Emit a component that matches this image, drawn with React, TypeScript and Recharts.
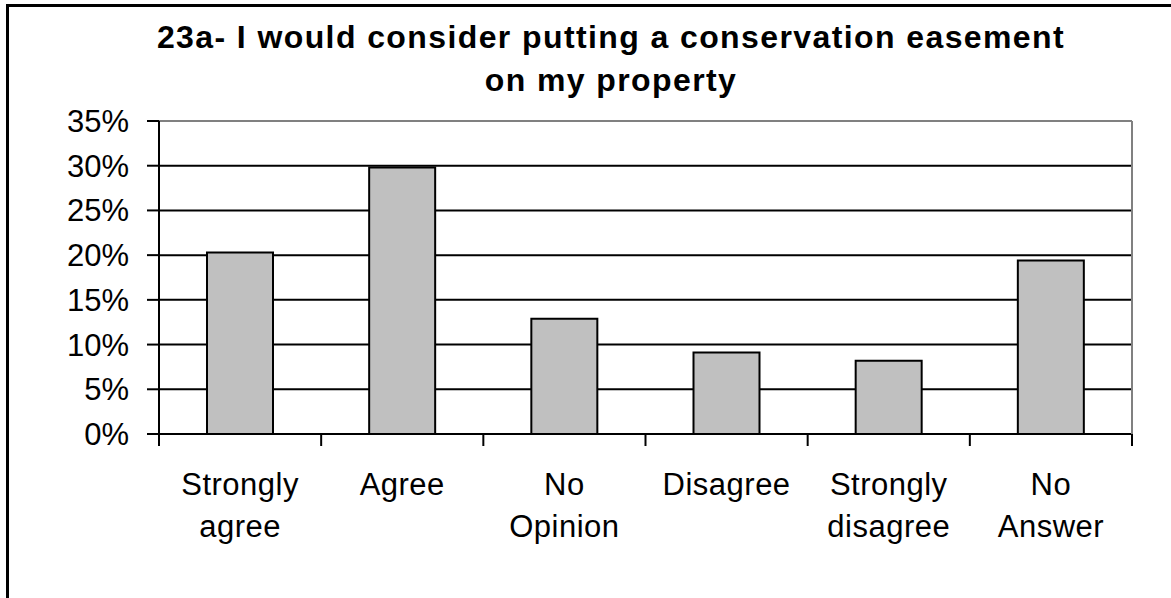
import React from 'react';
import { BarChart, Bar, XAxis, YAxis, CartesianGrid, ReferenceLine } from 'recharts';

const categories = ['Strongly agree', 'Agree', 'No Opinion', 'Disagree', 'Strongly disagree', 'No Answer'];
const values = [20.3, 29.8, 12.9, 9.1, 8.2, 19.4];
const yTicks = [0, 5, 10, 15, 20, 25, 30, 35];
const titleLines = ['23a- I would consider putting a conservation easement', 'on my property'];

const data = categories.map((c, i) => ({ category: c, value: values[i] }));

const FONT = '"Liberation Sans", Arial, Helvetica, sans-serif';
const W = 1171;
const H = 598;

const CategoryTick = (props: any) => {
  const { x, y, payload, index, visibleTicksCount } = props;
  const lines = String(payload.value).split(' ');
  const half = typeof payload.offset === 'number' ? payload.offset : 0;
  const isLast = index === (visibleTicksCount ?? categories.length) - 1;
  return (
    <g>
      <line x1={x - half} x2={x - half} y1={y} y2={y + 12} stroke="#000" strokeWidth={2} />
      {isLast && <line x1={x + half} x2={x + half} y1={y} y2={y + 12} stroke="#000" strokeWidth={2} />}
      <text x={x} y={y + 61} textAnchor="middle" fontFamily={FONT} fontSize={31} fill="#000" letterSpacing={0.5}>
        {lines.map((l, i) => (
          <tspan key={i} x={x} dy={i === 0 ? 0 : 42}>
            {l}
          </tspan>
        ))}
      </text>
    </g>
  );
};

export default function App() {
  return (
    <div style={{ position: 'absolute', left: 0, top: 0, width: W, height: H, overflow: 'hidden', background: '#fff' }}>
      <BarChart
        width={W}
        height={H}
        data={data}
        margin={{ top: 121, right: 38, bottom: 34, left: 0 }}
        barCategoryGap="29.6%"
      >
        <CartesianGrid vertical={false} stroke="#000" strokeWidth={2} />
        <XAxis
          dataKey="category"
          height={130}
          axisLine={{ stroke: '#000', strokeWidth: 2 }}
          tickLine={false}
          tickSize={0}
          tickMargin={0}
          interval={0}
          tick={<CategoryTick />}
        />
        <YAxis
          type="number"
          domain={[0, 35]}
          ticks={yTicks}
          width={159}
          tickFormatter={(v: number) => `${v}%`}
          axisLine={{ stroke: '#000', strokeWidth: 2 }}
          tickLine={{ stroke: '#000', strokeWidth: 2 }}
          tickSize={12}
          tickMargin={18}
          tick={{ fontSize: 31, fill: '#000', fontFamily: FONT }}
        />
        <YAxis
          yAxisId="right"
          orientation="right"
          type="number"
          domain={[0, 35]}
          allowDataOverflow
          width={1}
          tick={false}
          tickLine={false}
          axisLine={{ stroke: '#808080', strokeWidth: 2 }}
        />
        <ReferenceLine y={35} stroke="#808080" strokeWidth={2} />
        <Bar dataKey="value" fill="#C0C0C0" stroke="#000" strokeWidth={2} isAnimationActive={false} />
      </BarChart>
      <svg
        width={W}
        height={H}
        style={{ position: 'absolute', left: 0, top: 0, pointerEvents: 'none' }}
      >
        <path d={`M7.5,${H} L7.5,5.5 L${W},5.5`} fill="none" stroke="#000" strokeWidth={3} />
        <text x={611} y={48} textAnchor="middle" fontFamily={FONT} fontWeight="bold" fontSize={32} letterSpacing={1.4} fill="#000">
          {titleLines[0]}
        </text>
        <text x={611} y={91} textAnchor="middle" fontFamily={FONT} fontWeight="bold" fontSize={32} letterSpacing={1.4} fill="#000">
          {titleLines[1]}
        </text>
      </svg>
    </div>
  );
}
